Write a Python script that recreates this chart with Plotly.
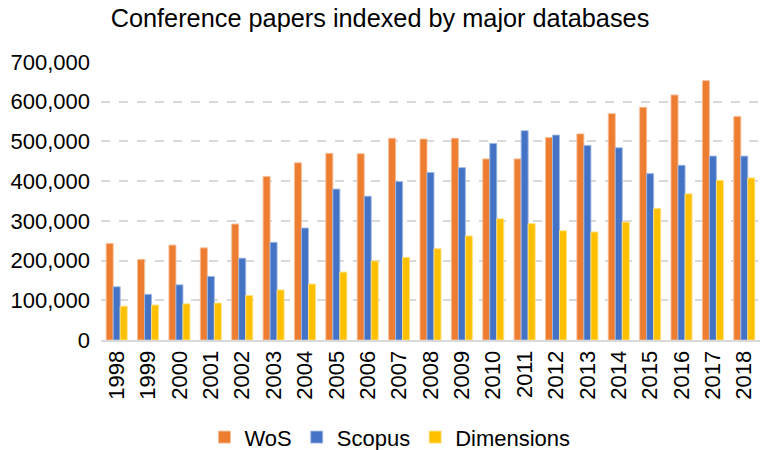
import plotly.graph_objects as go

years = [str(y) for y in range(1998, 2019)]
wos = [243000, 203000, 239000, 232000, 292000, 412000, 446000, 470000, 469000, 508000,
       506000, 508000, 456000, 456000, 510000, 519000, 570000, 586000, 617000, 653000, 563000]
scopus = [134000, 115000, 139000, 160000, 206000, 246000, 282000, 380000, 362000, 399000,
          422000, 434000, 495000, 527000, 516000, 490000, 484000, 419000, 440000, 463000, 463000]
dimensions = [85000, 88000, 91000, 93000, 112000, 126000, 141000, 171000, 199000, 208000,
              230000, 262000, 305000, 293000, 275000, 272000, 297000, 331000, 368000, 402000, 408000]

series = [("WoS", wos, "#ED7D31", "rgba(248,190,150,0.9)"),
          ("Scopus", scopus, "#4472C4", "rgba(160,185,230,0.9)"),
          ("Dimensions", dimensions, "#FFC000", "rgba(255,225,130,0.9)")]

fig = go.Figure()
for name, vals, col, edge in series:
    fig.add_trace(go.Bar(x=years, y=vals, name=name, marker=dict(color=col, line=dict(color=edge, width=1))))

font = "Liberation Sans, Arial, sans-serif"
fig.update_layout(
    width=760, height=450,
    margin=dict(l=101, r=0, t=62, b=110, autoexpand=False),
    paper_bgcolor="white", plot_bgcolor="white",
    barmode="group", bargap=0.33, bargroupgap=0,
    font=dict(family=font, size=22, color="#000000"),
    title=dict(text="Conference papers indexed by major databases", x=0.5, xanchor="center",
               y=0.96, yanchor="middle", font=dict(size=25.3, color="#000000")),
    legend=dict(orientation="h", x=0.4385, xanchor="center", y=-0.35, yanchor="middle",
                font=dict(size=22), itemwidth=30, traceorder="normal"),
    showlegend=True,
)
fig.update_xaxes(tickangle=-90, showline=True, linecolor="#d9d9d9", linewidth=2,
                 ticks="", tickfont=dict(size=22))
fig.update_yaxes(range=[0, 700000], dtick=100000, tickformat=",", showgrid=True,
                 gridcolor="#d9d9d9", gridwidth=1.5, griddash="dash", zeroline=False,
                 ticks="", ticklabelstandoff=10, tickfont=dict(size=22))
fig.write_html("out.html", config={"displayModeBar": False},
               post_script="document.body.style.margin='0';document.body.style.overflow='hidden';")
